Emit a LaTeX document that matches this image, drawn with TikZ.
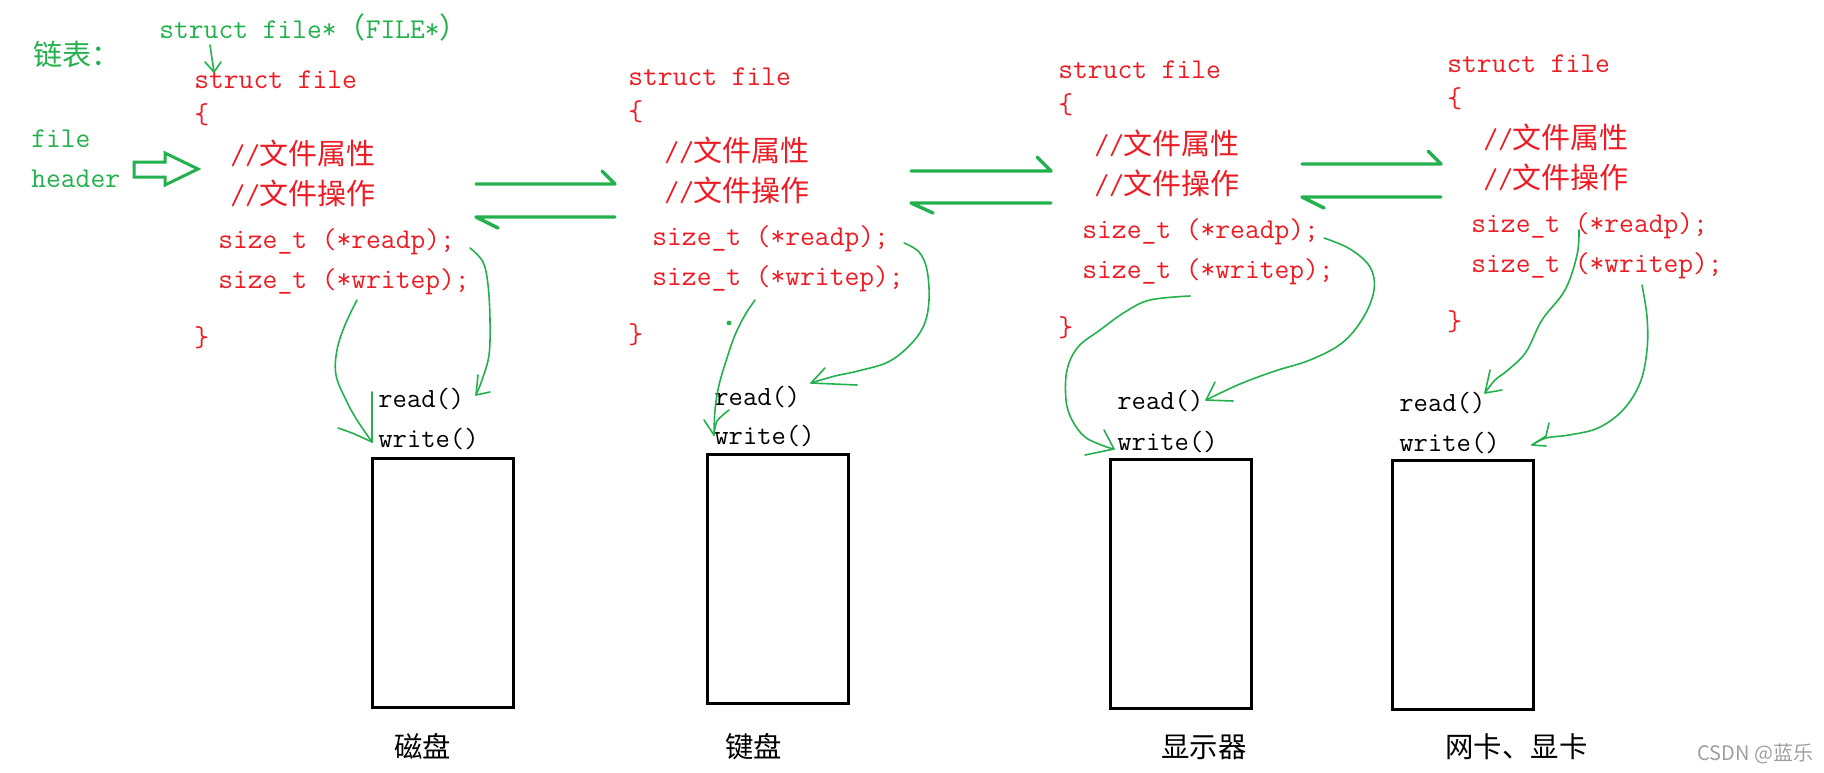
\documentclass[tikz,border=0pt]{standalone}
\usepackage{fontspec}
\newfontfamily\cjkfont{Noto Sans CJK SC}
\definecolor{pgreen}{RGB}{34,177,76}
\definecolor{pred}{RGB}{237,28,36}
\newcommand\cj[1]{{\cjkfont\fontsize{14.5}{17}\selectfont #1}}
\newcommand\structblk[3]{%
  \node[code] (#1-head) at (#2,#3) {struct file};
  \node[code] (#1-ob)   at (#2,{#3+35}) {\{};
  \node[code] (#1-attr) at ({#2+36},{#3+76}) {//\cj{文件属性}};
  \node[code] (#1-ops)  at ({#2+36},{#3+116}) {//\cj{文件操作}};
  \node[code] (#1-rp)   at ({#2+24},{#3+160}) {size\_t (*readp);};
  \node[code] (#1-wp)   at ({#2+24},{#3+200}) {size\_t (*writep);};
  \node[code] (#1-cb)   at (#2,{#3+258}) {\}};
}
\begin{document}
\begin{tikzpicture}[x=0.5pt,y=-0.5pt,
  code/.style={font=\ttfamily\fontsize{14.35}{16}\selectfont, text=pred, inner sep=0, anchor=base west},
  gcode/.style={code, text=pgreen},
  bcode/.style={code, font=\ttfamily\fontsize{13.9}{16}\selectfont, text=black},
  gcjk/.style={font=\cjkfont\fontsize{14.5}{17}\selectfont, text=pgreen, inner sep=0, anchor=base west},
  devlabel/.style={font=\cjkfont\fontsize{14.2}{17}\selectfont, text=black, inner sep=0, anchor=base west},
  dev/.style={draw=black, line width=1.5pt, inner sep=0, anchor=north west, minimum width=70.5pt, minimum height=124.5pt},
  harp/.style={draw=pgreen, line width=1.7pt, line cap=round, line join=round},
  curve/.style={draw=pgreen, line width=0.8pt, line cap=round, line join=round},
  hollow/.style={draw=pgreen, line width=1.5pt, line join=miter}]
\useasboundingbox (0,0) rectangle (1824,772);

% left labels
\node[gcjk] (lianbiao) at (33,65) {链表：};
\node[gcode] (fileptr) at (159,38) {struct file*\cj{（}FILE*\cj{）}};
\node[gcode] (file) at (31,147) {file};
\node[gcode] (header) at (31,187) {header};
\draw[hollow] (134,162) -- (165,162) -- (165,153) -- (198,169) -- (165,185) -- (165,177) -- (134,177) -- cycle;

% small arrow
\coordinate (pa) at (210,45);
\coordinate (pb) at (214,72);
\draw[curve] (pa) -- (pb);
\draw[curve] (205,62) -- (pb) -- (221,62);

% struct blocks
\structblk{s1}{194}{88}
\structblk{s2}{628}{85}
\structblk{s3}{1058}{78}
\structblk{s4}{1447}{72}

% harpoons
\coordinate (h1a) at (476,184); \coordinate (h1b) at (615,184);
\coordinate (h1c) at (615,217); \coordinate (h1d) at (476,217);
\draw[harp] (h1a) -- (h1b) -- ++(-13,-13);
\draw[harp] (h1c) -- (h1d) -- ++(22,11);
\coordinate (h2a) at (911,171); \coordinate (h2b) at (1051,171);
\coordinate (h2c) at (1051,203); \coordinate (h2d) at (911,203);
\draw[harp] (h2a) -- (h2b) -- ++(-14,-14);
\draw[harp] (h2c) -- (h2d) -- ++(22,10);
\coordinate (h3a) at (1302,164); \coordinate (h3b) at (1441,164);
\coordinate (h3c) at (1441,197); \coordinate (h3d) at (1302,197);
\draw[harp] (h3a) -- (h3b) -- ++(-13,-13);
\draw[harp] (h3c) -- (h3d) -- ++(22,11);

% devices
\node[dev] (box1) at (371,457) {};
\node[dev] (box2) at (706,453) {};
\node[dev] (box3) at (1109,458) {};
\node[dev] (box4) at (1391,459) {};
\node[bcode] (rd1) at (378,407) {read()};
\node[bcode] (wr1) at (378,447) {write()};
\node[bcode] (rd2) at (714,405) {read()};
\node[bcode] (wr2) at (714,444) {write()};
\node[bcode] (rd3) at (1117,409) {read()};
\node[bcode] (wr3) at (1117,450) {write()};
\node[bcode] (rd4) at (1399,411) {read()};
\node[bcode] (wr4) at (1399,451) {write()};
\node[devlabel] (l1) at (394,757) {磁盘};
\node[devlabel] (l2) at (725,757) {键盘};
\node[devlabel] (l3) at (1161,757) {显示器};
\node[devlabel] (l4) at (1445,757) {网卡、显卡};
\node[font=\cjkfont\fontsize{10}{12}\selectfont, text=gray!75, anchor=base west, inner sep=0] (wm) at (1697,760) {CSDN @蓝乐};

% hand-drawn connectors
\coordinate (r1s) at (470,248); \coordinate (r1e) at (476,395);
\draw[curve] plot[smooth, tension=0.6] coordinates {(r1s) (483,262) (488,285) (490,320) (489,355) (482,380) (r1e)};
\draw[curve] (478,375) -- (r1e) -- (490,392);

\coordinate (w1s) at (357,300); \coordinate (w1e) at (372,442);
\draw[curve] plot[smooth, tension=0.6] coordinates {(w1s) (345,325) (337,350) (336,375) (346,400) (357,420) (w1e)};
\draw[curve] (372,392) -- (w1e);
\draw[curve] plot[smooth] coordinates {(338,428) (352,433) (w1e)};

\coordinate (w2s) at (755,300); \coordinate (w2e) at (714,435);
\draw[curve] plot[smooth, tension=0.6] coordinates {(w2s) (745,315) (735,335) (727,358) (719,385) (715,410) (w2e)};
\draw[curve] (704,420) -- (w2e);
\draw[curve] plot[smooth] coordinates {(729,410) (717,421) (w2e)};
\fill[pgreen] (729,323) circle (1.2pt);

\coordinate (r2s) at (904,243); \coordinate (r2e) at (811,383);
\draw[curve] plot[smooth, tension=0.6] coordinates {(r2s) (919,252) (927,270) (929,300) (924,325) (910,345) (888,362) (858,371) (835,376) (r2e)};
\draw[curve] (825,368) -- (r2e) -- (857,385);

\coordinate (r3s) at (1324,238); \coordinate (r3e) at (1206,400);
\draw[curve] plot[smooth, tension=0.6] coordinates {(r3s) (1350,249) (1370,267) (1374,290) (1363,318) (1342,343) (1310,360) (1275,371) (1240,384) (r3e)};
\draw[curve] (1215,382) -- (r3e) -- (1233,401);

\coordinate (w3s) at (1190,296); \coordinate (w3e) at (1114,449);
\draw[curve] plot[smooth, tension=0.6] coordinates {(w3s) (1150,300) (1125,312) (1100,330) (1078,347) (1067,370) (1066,400) (1072,420) (1085,437) (1104,446) (w3e)};
\draw[curve] (1104,430) -- (w3e) -- (1085,455);

\coordinate (r4s) at (1579,230); \coordinate (r4e) at (1485,393);
\draw[curve] plot[smooth, tension=0.6] coordinates {(r4s) (1577,255) (1565,290) (1542,320) (1526,352) (1508,370) (1495,380) (r4e)};
\draw[curve] (1490,370) -- (r4e) -- (1502,390);

\coordinate (w4s) at (1642,285); \coordinate (w4e) at (1532,445);
\draw[curve] plot[smooth, tension=0.6] coordinates {(w4s) (1647,317) (1647,350) (1640,383) (1623,410) (1598,428) (1569,435) (1546,438) (w4e)};
\draw[curve] (1549,423) -- (1546,436) -- (w4e) -- (1546,446);
\end{tikzpicture}
\end{document}
